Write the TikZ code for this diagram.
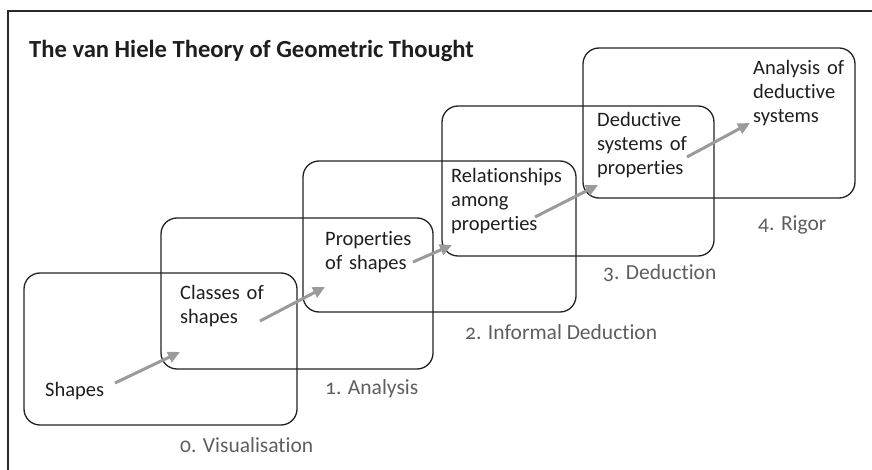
\documentclass[tikz,border=0pt]{standalone}
\usepackage{fontspec}
\setmainfont{Carlito}[Numbers=OldStyle, Ligatures=NoCommon]
\usetikzlibrary{arrows.meta,positioning}
\definecolor{frameline}{HTML}{2A2A2A}
\definecolor{boxline}{HTML}{222222}
\definecolor{bodytext}{HTML}{1E1E1E}
\definecolor{stagetext}{HTML}{5E5E5E}
\definecolor{arrowgray}{HTML}{9A9A9A}

\tikzset{
    levelbox/.style={draw=boxline, line width=1.3pt, rounded corners=16pt},
    idea/.style={anchor=base west, inner sep=0pt, text width=150pt, align=left,
        text=bodytext, font=\fontsize{20.5}{24}\selectfont},
    levelname/.style={anchor=base west, inner sep=0pt, text=stagetext,
        font=\fontsize{21.5}{24}\selectfont},
    growth/.style={draw=arrowgray, line width=3pt, -{Triangle[length=12pt,width=11pt]}},
}

\begin{document}
\begin{tikzpicture}[x=1pt, y=-1pt]
    \useasboundingbox (0,0) rectangle (872,470);

    % Frame (top and left edges only)
    \draw[frameline, line width=2.8pt] (8,470) -- (8,11) -- (872,11);

    % Title
    \node[anchor=base west, inner sep=0pt, text=bodytext,
        font=\fontsize{24.6}{28}\selectfont\bfseries] (title) at (29,58)
        {The van Hiele Theory of Geometric Thought};

    % Level boxes, from the lowest to the highest
    \draw[levelbox] (24,273) rectangle (297,425);
    \draw[levelbox] (161,218) rectangle (433,369);
    \draw[levelbox] (303,161) rectangle (576,312);
    \draw[levelbox] (442,106) rectangle (714,256);
    \draw[levelbox] (583,48) rectangle (855,198);

    % Level names
    \node[levelname] (lvl0) at (180,452) {0. Visualisation};
    \node[levelname] (lvl1) at (325,394) {1. Analysis};
    \node[levelname] (lvl2) at (465,339) {2. Informal Deduction};
    \node[levelname] (lvl3) at (603,279) {3. Deduction};
    \node[levelname] (lvl4) at (758,231) {4. Rigor};

    % What each level thinks about
    \node[idea] (shapes) at (45,396) {Shapes};
    \node[idea] (classes) at (180,299) {Classes of\\shapes};
    \node[idea] (props) at (325,246) {Properties\\of shapes};
    \node[idea] (relations) at (451,183) {Relationships\\among\\properties};
    \node[idea] (systems) at (597,127) {Deductive\\systems of\\properties};
    \node[idea] (analysis) at (753,75) {Analysis of\\deductive\\systems};

    % Arrow ends
    \coordinate (from0) at (115,383);
    \coordinate (to0) at (180,352);
    \coordinate (from1) at (260,321);
    \coordinate (to1) at (325,287);
    \coordinate (from2) at (413,262);
    \coordinate (to2) at (452,245);
    \coordinate (from3) at (535,217);
    \coordinate (to3) at (598,185);
    \coordinate (from4) at (687,157);
    \coordinate (to4) at (750,123);

    % Progress arrows
    \foreach \i in {0,...,4}
        \draw[growth] (from\i) -- (to\i);
\end{tikzpicture}
\end{document}
